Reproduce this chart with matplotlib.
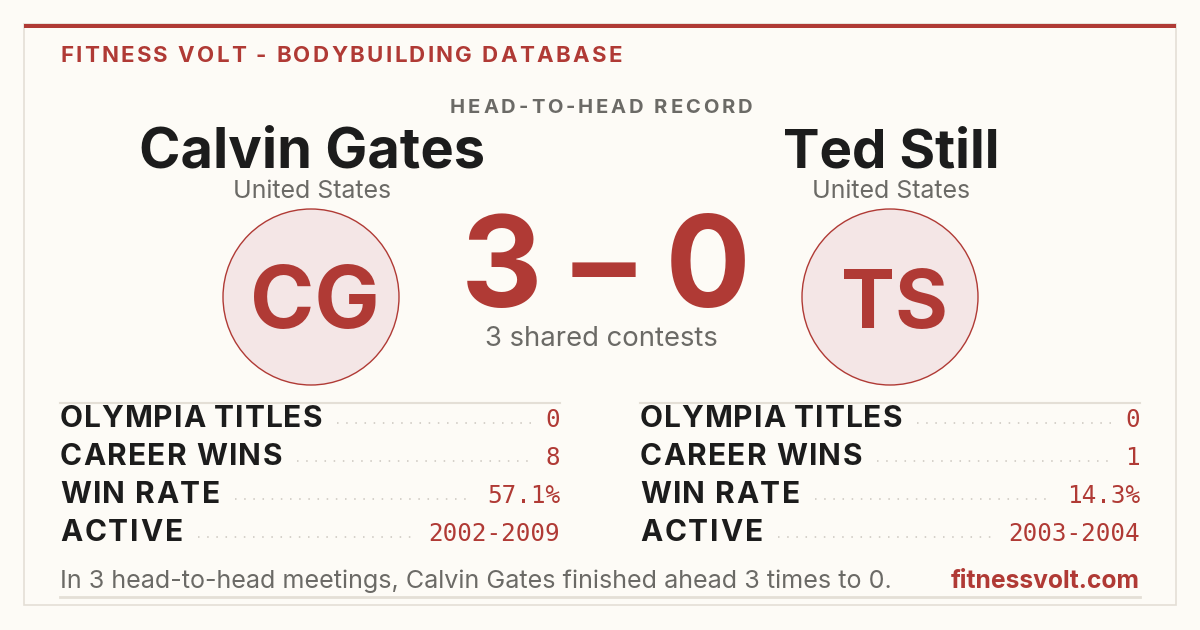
import matplotlib
matplotlib.use("Agg")
import matplotlib.pyplot as plt
from matplotlib.patches import Circle, Rectangle

# data
site_title = "FITNESS VOLT - BODYBUILDING DATABASE"
record_title = "HEAD-TO-HEAD RECORD"
names = ["Calvin Gates", "Ted Still"]
countries = ["United States", "United States"]
initials = ["CG", "TS"]
score = [3, 0]
shared = 3
stat_labels = ["OLYMPIA TITLES", "CAREER WINS", "WIN RATE", "ACTIVE"]
left_values = ["0", "8", "57.1%", "2002-2009"]
right_values = ["0", "1", "14.3%", "2003-2004"]
footer_text = "In 3 head-to-head meetings, Calvin Gates finished ahead 3 times to 0."
footer_site = "fitnessvolt.com"

RED = "#B03A35"
BG = "#FDFBF6"
INK = "#1c1c1c"
GREY = "#6b6a66"
RULE = "#E4DFD6"
SANS = ["Inter", "DejaVu Sans"]
MONO = ["DejaVu Sans Mono"]

fig = plt.figure(figsize=(12, 6.3), dpi=100, facecolor=BG)
ax = fig.add_axes([0, 0, 1, 1])
ax.set_xlim(0, 1200)
ax.set_ylim(630, 0)
ax.axis("off")
renderer = fig.canvas.get_renderer()


def width_of(t):
    return t.get_window_extent(renderer).width


def fit_text(x, y, s, target, **kw):
    # scale the font so the string is as wide as in the reference
    t = ax.text(x, y, s, va="baseline", **kw)
    t.set_fontsize(t.get_fontsize() * target / width_of(t))
    return t


def tracked_text(x, y, s, target, ha="left", **kw):
    # letter-spaced text: draw glyph by glyph
    parts = [ax.text(0, y, c, ha="left", va="baseline", **kw) for c in s]
    ws = [width_of(p) for p in parts]
    gap = (target - sum(ws)) / (len(s) - 1)
    x0 = x - target / 2 if ha == "center" else x
    for p, w in zip(parts, ws):
        p.set_x(x0)
        x0 += w + gap
    return parts


# card
ax.add_patch(Rectangle((24, 24), 1152, 581, facecolor=BG, edgecolor=RULE, lw=1.2))
ax.add_patch(Rectangle((24, 24), 1152, 4, facecolor=RED, edgecolor="none"))

tracked_text(60, 62, site_title, 562, color=RED, fontsize=16,
             fontweight="bold", family=SANS)
tracked_text(601, 113, record_title, 302, ha="center", color=GREY, fontsize=14.5,
             fontweight="bold", family=SANS)

centers = [312, 891]
name_w = [346, 217]
ini_w = [130, 107]
for cx, nm, ct, ini, nw, iw in zip(centers, names, countries, initials, name_w, ini_w):
    fit_text(cx, 167, nm, nw, color=INK, fontsize=40, fontweight="bold",
             family=SANS, ha="center")
    fit_text(cx, 198, ct, 159, color=GREY, fontsize=16, family=SANS, ha="center")
    ax.add_patch(Circle((cx - 1, 297), 88, facecolor="#F4E6E6", edgecolor=RED, lw=1))
    fit_text(cx + 3, 328, ini, iw, color=RED, fontsize=64, fontweight="bold",
             family=SANS, ha="center")

fit_text(606, 307, f"{score[0]} \u2013 {score[1]}", 290, color=RED, fontsize=86,
         fontweight="bold", family=SANS, ha="center")
fit_text(601, 346, f"{shared} shared contests", 233, color=GREY, fontsize=17,
         family=SANS, ha="center")

# stats tables
inv = ax.transData.inverted()
row_y = [427, 465, 503, 541]
label_w = [262, 222, 160, 123]
for x0, x1, vals in [(60, 560, left_values), (640, 1140, right_values)]:
    ax.plot([x0, x1], [403, 403], color=RULE, lw=1.5)
    for y, lab, lw_, val in zip(row_y, stat_labels, label_w, vals):
        tracked_text(x0, y, lab, lw_, color=INK, fontsize=21.5,
                     fontweight="bold", family=SANS)
        t2 = ax.text(x1, y, val, color=RED, fontsize=17.5, family=MONO,
                     ha="right", va="baseline")
        e2 = inv.transform(t2.get_window_extent(renderer))
        ax.plot([x0 + lw_ + 15, e2[0][0] - 14], [y - 4, y - 4], color="#cbc6be",
                lw=1.1, linestyle=(0, (1, 5)))

fit_text(60, 588, footer_text, 835, color=GREY, fontsize=16, family=SANS,
         ha="left")
fit_text(1140, 588, footer_site, 190, color=RED, fontsize=16, fontweight="bold",
         family=SANS, ha="right")
ax.plot([60, 1140], [597, 597], color=RULE, lw=2)

fig.savefig("out.png", dpi=100, facecolor=BG)
